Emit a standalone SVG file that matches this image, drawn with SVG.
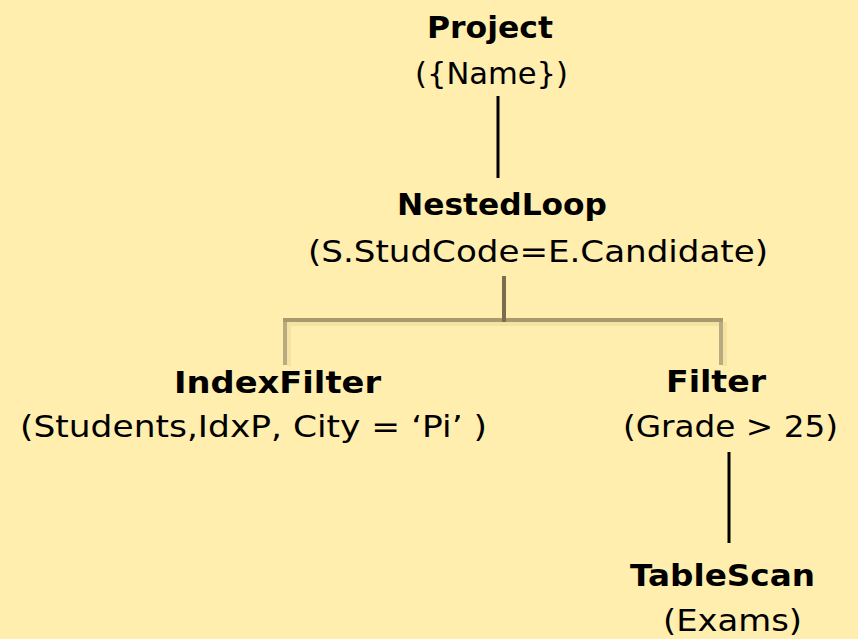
<svg xmlns="http://www.w3.org/2000/svg" width="858" height="639" viewBox="0 0 858 639">
  <style>
    .t { font-family: "DejaVu Sans", "Open Sans", sans-serif; font-size: 31px; fill: #000; }
    .b { font-weight: bold; font-size: 30px; }
    .edge { stroke: #000; stroke-width: 3; fill: none; }
    .stub { stroke: #7b6e4e; stroke-width: 4; fill: none; }
    .bar { stroke: #a89a6e; stroke-width: 4; fill: none; stroke-linecap: square; }
    .leg { stroke: #b9ab80; stroke-width: 4; fill: none; }
    .glow { stroke: #f3e4a4; stroke-width: 4; fill: none; }
  </style>
  <rect width="858" height="639" fill="#ffeeae"/>

  <g id="connectors">
    <line class="edge" x1="498" y1="96" x2="498" y2="178"/>
    <line class="edge" x1="729" y1="452" x2="729" y2="543"/>
    <!-- soft highlight under the fork -->
    <polyline class="glow" points="289,366 289,324 725,324 725,366"/>
    <line class="leg" x1="285" y1="320" x2="285" y2="365"/>
    <line class="leg" x1="721" y1="320" x2="721" y2="365"/>
    <line class="bar" x1="285" y1="320" x2="721" y2="320"/>
    <line class="stub" x1="504" y1="276" x2="504" y2="322"/>
  </g>

  <g id="project">
    <text class="t b" x="427" y="38" textLength="126" lengthAdjust="spacingAndGlyphs">Project</text>
    <text class="t" x="415" y="84" textLength="153" lengthAdjust="spacingAndGlyphs">({Name})</text>
  </g>

  <g id="nestedloop">
    <text class="t b" x="397" y="215" textLength="210" lengthAdjust="spacingAndGlyphs">NestedLoop</text>
    <text class="t" x="308" y="262" textLength="460" lengthAdjust="spacingAndGlyphs">(S.StudCode=E.Candidate)</text>
  </g>

  <g id="indexfilter">
    <text class="t b" x="174" y="393" textLength="207" lengthAdjust="spacingAndGlyphs">IndexFilter</text>
    <text class="t" x="20" y="437" textLength="467" lengthAdjust="spacingAndGlyphs">(Students,IdxP, City = ‘Pi’ )</text>
  </g>

  <g id="filter">
    <text class="t b" x="666" y="392" textLength="100" lengthAdjust="spacingAndGlyphs">Filter</text>
    <text class="t" x="623" y="437" textLength="215" lengthAdjust="spacingAndGlyphs">(Grade &gt; 25)</text>
  </g>

  <g id="tablescan">
    <text class="t b" x="630" y="586" textLength="185" lengthAdjust="spacingAndGlyphs">TableScan</text>
    <text class="t" x="663" y="631" textLength="139" lengthAdjust="spacingAndGlyphs">(Exams)</text>
  </g>
</svg>
